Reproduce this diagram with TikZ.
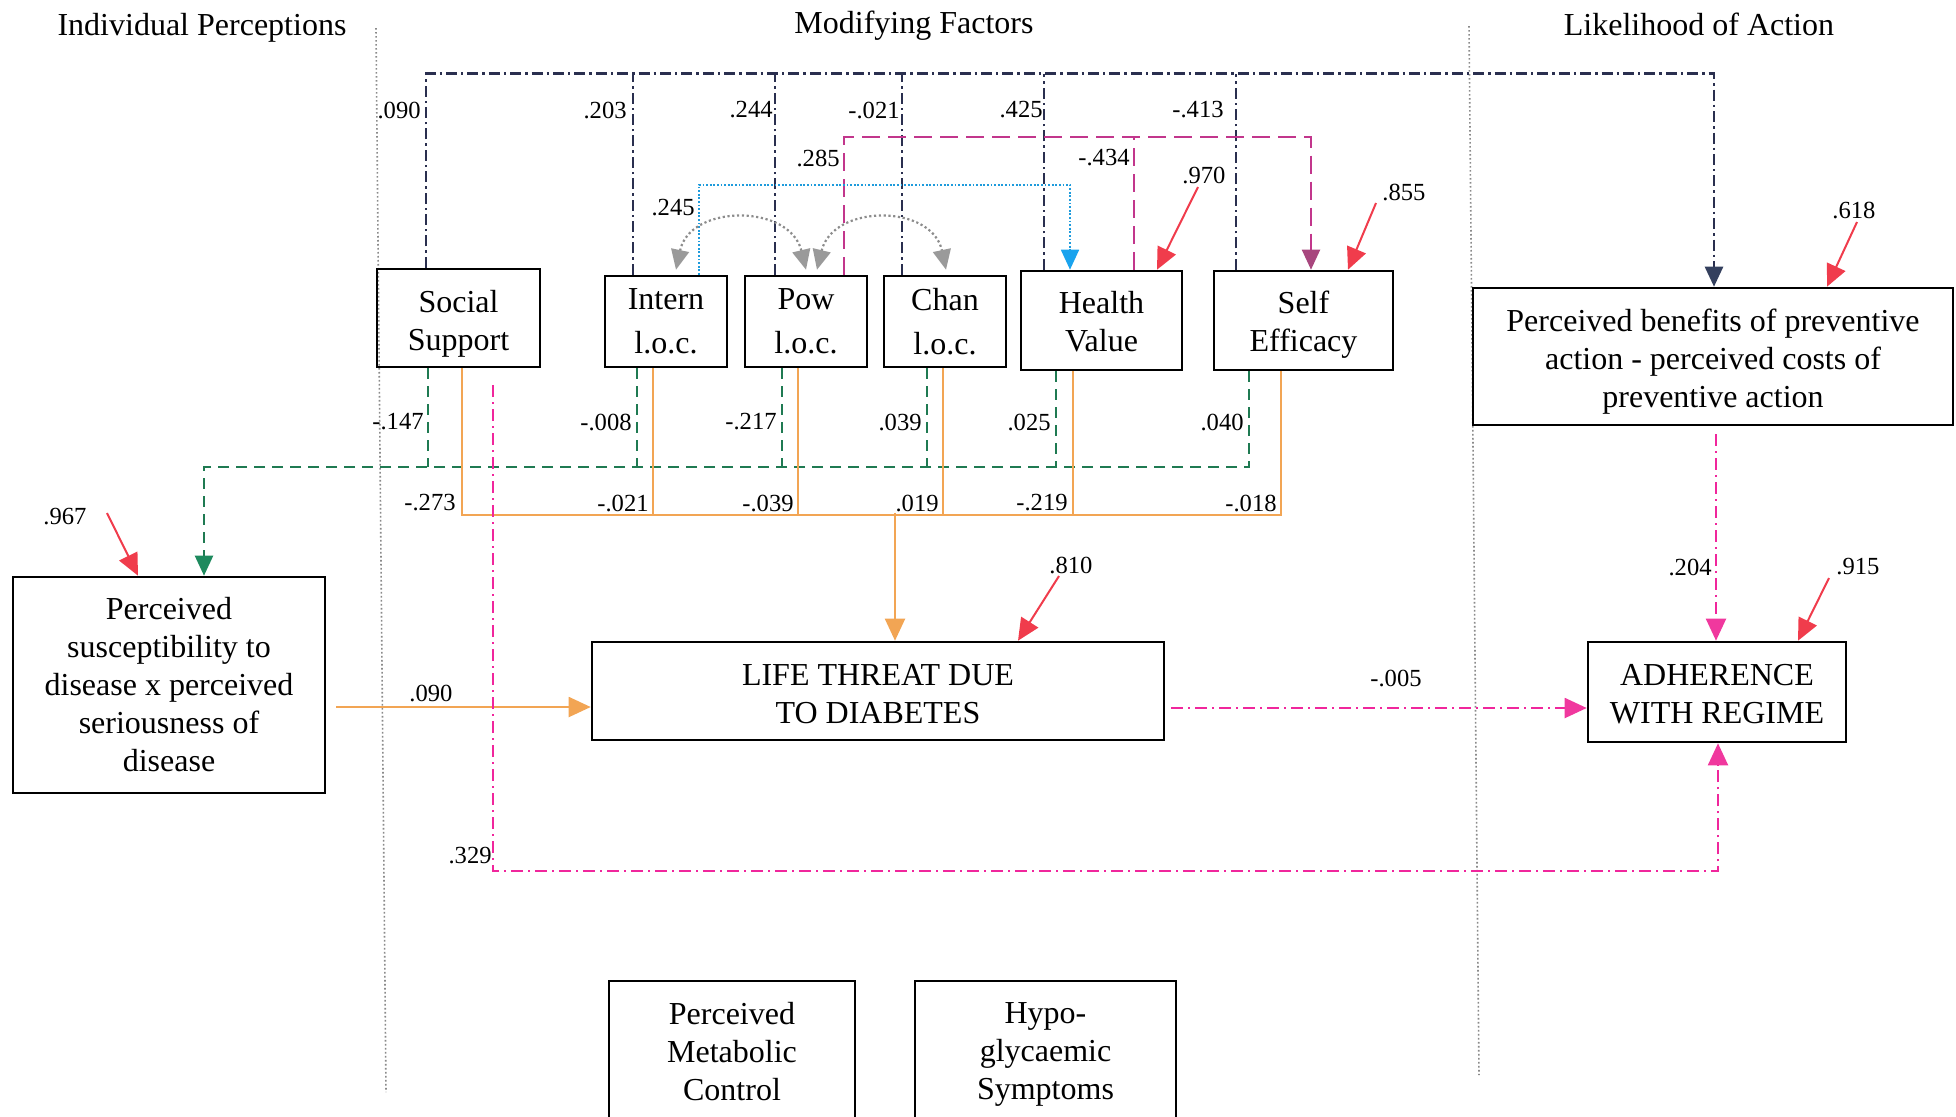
\documentclass[tikz,border=0pt]{standalone}
\usepackage{fontspec}
\setmainfont{Liberation Serif}
\usetikzlibrary{arrows.meta,calc}
\definecolor{navyc}{HTML}{2A2F4F}
\definecolor{navyh}{HTML}{34405E}
\definecolor{magc}{HTML}{C2368C}
\definecolor{magh}{HTML}{A8467E}
\definecolor{bluec}{HTML}{1E9BDC}
\definecolor{blueh}{HTML}{1AA3EE}
\definecolor{grayc}{HTML}{8C8C8C}
\definecolor{grayh}{HTML}{9A9A9A}
\definecolor{greenc}{HTML}{1F7A52}
\definecolor{greenh}{HTML}{1E8A5E}
\definecolor{orangec}{HTML}{F2A554}
\definecolor{pinkc}{HTML}{F0269C}
\definecolor{pinkh}{HTML}{F0389E}
\definecolor{redc}{HTML}{F03C4C}
\definecolor{divc}{HTML}{8A8A8A}
\newcommand\lowerby[1]{\rule{0pt}{#1}}
\begin{document}
\begin{tikzpicture}[x=0.5pt,y=-0.5pt,
  box/.style={draw=black, line width=1.3pt, align=center, inner sep=0pt, font=\fontsize{16}{19}\selectfont},
  lab/.style={font=\fontsize{12.3}{14}\selectfont, inner sep=0pt},
  head/.style={font=\fontsize{16}{19}\selectfont, inner sep=0pt},
  nav/.style={draw=navyc, line width=1.3pt, dash pattern=on 5.5pt off 2pt on 1.2pt off 2pt},
  mag/.style={draw=magc, line width=1pt, dash pattern=on 9pt off 4pt},
  blu/.style={draw=bluec, line width=0.9pt, dash pattern=on 0.9pt off 0.9pt},
  garc/.style={draw=grayc, line width=1.1pt, dash pattern=on 1.1pt off 1.3pt},
  grn/.style={draw=greenc, line width=1.1pt, dash pattern=on 5.5pt off 3.5pt},
  org/.style={draw=orangec, line width=1pt},
  pnk/.style={draw=pinkc, line width=1pt, dash pattern=on 6pt off 2.5pt on 1pt off 2.5pt},
  err/.style={draw=redc, line width=1pt, -{Triangle[length=11pt,width=10pt]}},
  divider/.style={draw=divc, line width=0.8pt, dash pattern=on 0.8pt off 1.2pt},
  tipN/.style={-{Triangle[length=10pt,width=9pt,color=navyh]}},
  tipM/.style={-{Triangle[length=10pt,width=9pt,color=magh]}},
  tipB/.style={-{Triangle[length=10pt,width=9pt,color=blueh]}},
  tipG/.style={-{Triangle[length=10pt,width=9pt,color=greenh]}},
  tipO/.style={-{Triangle[length=11pt,width=10pt,color=orangec]}},
  tipP/.style={-{Triangle[length=11pt,width=10pt,color=pinkh]}},
  tipGA/.style={{Triangle[length=10pt,width=9pt,color=grayh]}-{Triangle[length=10pt,width=9pt,color=grayh]}},
]
\useasboundingbox (0,0) rectangle (1956,1116);
\clip (0,0) rectangle (1956,1116);

% dividers and headings
\draw[divider] (376,28) -- (386,1092);
\draw[divider] (1469,26) -- (1479,1075);
\node[head] (h1) at (202,28) {Individual Perceptions};
\node[head] (h2) at (914,26) {Modifying Factors};
\node[head] (h3) at (1699,24) {Likelihood of Action};

% boxes
\node[box, minimum width=81.5pt, minimum height=49pt] (ss) at (458.5,318) {\lowerby{16.8pt}Social\\Support};
\node[box, minimum width=61pt, minimum height=45.5pt] (intern) at (666,321.5) {Intern\\[3pt]l.o.c.};
\node[box, minimum width=61pt, minimum height=45.5pt] (pow) at (806,321.5) {Pow\\[3pt]l.o.c.};
\node[box, minimum width=61pt, minimum height=45.5pt] (chan) at (945,321.5) {Chan\\[3pt]l.o.c.};
\node[box, minimum width=80.5pt, minimum height=49.5pt] (hv) at (1101.5,320.5) {\lowerby{12.5pt}Health\\Value};
\node[box, minimum width=89.5pt, minimum height=49.5pt] (se) at (1303.5,320.5) {\lowerby{15pt}Self\\Efficacy};
\node[box, minimum width=240pt, minimum height=68.5pt] (pb) at (1713,356.5) {\lowerby{16pt}Perceived benefits of preventive\\action - perceived costs of\\preventive action};
\node[box, minimum width=156pt, minimum height=108pt] (ps) at (169,685) {Perceived\\susceptibility to\\disease x perceived\\seriousness of\\disease};
\node[box, minimum width=286pt, minimum height=49pt] (lt) at (878,691) {\lowerby{13.5pt}LIFE THREAT DUE\\TO DIABETES};
\node[box, minimum width=129pt, minimum height=50pt] (adh) at (1717,692) {\lowerby{12.5pt}ADHERENCE\\WITH REGIME};
\node[box, minimum width=123pt, minimum height=71pt] (pmc) at (732,1052) {Perceived\\Metabolic\\Control};
\node[box, minimum width=130.5pt, minimum height=73pt] (hypo) at (1045.5,1054) {Hypo-\\glycaemic\\Symptoms};

% navy dash-dot paths to perceived benefits
\draw[nav, tipN] ($(ss.north)+(-32.5,0)$) -- ++(0,-194) -| ($(pb.north)+(1,0)$);
\draw[nav] ($(intern.north)+(-33,0)$) -- ++(0,-201);
\draw[nav] ($(pow.north)+(-31,0)$) -- ++(0,-201);
\draw[nav] ($(chan.north)+(-43,0)$) -- ++(0,-201);
\draw[nav] ($(hv.north)+(-57.5,0)$) -- ++(0,-196);
\draw[nav] ($(se.north)+(-67.5,0)$) -- ++(0,-196);
\node[lab, anchor=east] (n1) at (421,110) {.090};
\node[lab, anchor=east] (n2) at (627,110) {.203};
\node[lab, anchor=east] (n3) at (773,110) {.244};
\node[lab, anchor=east] (n4) at (900,110) {-.021};
\node[lab, anchor=east] (n5) at (1043,110) {.425};
\node[lab, anchor=east] (n6) at (1224,110) {-.413};

% magenta dashed to self efficacy
\draw[mag, tipM] ($(pow.north)+(38,0)$) -- ++(0,-138) -| ($(se.north)+(7.5,0)$);
\draw[mag] ($(hv.north)+(32.5,0)$) -- ++(0,-133);
\node[lab, anchor=east] (m1) at (840,158) {.285};
\node[lab, anchor=east] (m2) at (1130,158) {-.434};

% blue dotted to health value
\draw[blu, tipB] ($(intern.north)+(33,0)$) -- ++(0,-90) -| ($(hv.north)+(-31.5,0)$);
\node[lab, anchor=east] (b1) at (695,208) {.245};

% gray correlation arcs
\draw[garc, tipGA] ($(intern.north)+(10,-5)$) .. controls +(14,-66) and +(-16,-66) .. ($(pow.north)+(0,-5)$);
\draw[garc, tipGA] ($(pow.north)+(11,-5)$) .. controls +(16,-66) and +(-14,-66) .. ($(chan.north)+(1,-5)$);

% green dashed to perceived susceptibility
\draw[grn, tipG] ($(se.south)+(-54.5,0)$) -- ++(0,96) -| ($(ps.north)+(35,0)$);
\draw[grn] ($(ss.south)+(-30.5,0)$) -- ++(0,99);
\draw[grn] ($(intern.south)+(-29,0)$) -- ++(0,99);
\draw[grn] ($(pow.south)+(-24,0)$) -- ++(0,99);
\draw[grn] ($(chan.south)+(-18,0)$) -- ++(0,99);
\draw[grn] ($(hv.south)+(-45.5,0)$) -- ++(0,96);
\node[lab, anchor=east] (g1) at (424,422) {-.147};
\node[lab, anchor=east] (g2) at (632,422) {-.008};
\node[lab, anchor=east] (g3) at (777,422) {-.217};
\node[lab, anchor=east] (g4) at (922,422) {.039};
\node[lab, anchor=east] (g5) at (1051,422) {.025};
\node[lab, anchor=east] (g6) at (1244,422) {.040};

% orange to life threat
\draw[org] ($(ss.south)+(3.5,0)$) -- ++(0,147) -| ($(se.south)+(-22.5,0)$);
\draw[org] ($(intern.south)+(-13,0)$) -- ++(0,147);
\draw[org] ($(pow.south)+(-8,0)$) -- ++(0,147);
\draw[org] ($(chan.south)+(-2,0)$) -- ++(0,147);
\draw[org] ($(hv.south)+(-28.5,0)$) -- ++(0,144);
\draw[org, tipO] ($(lt.north)+(17,-128)$) -- ($(lt.north)+(17,0)$);
\draw[org, tipO] ($(ps.east)+(10,22)$) -- ($(lt.west)+(0,16)$);
\node[lab, anchor=east] (o1) at (456,503) {-.273};
\node[lab, anchor=east] (o2) at (649,503) {-.021};
\node[lab, anchor=east] (o3) at (794,503) {-.039};
\node[lab, anchor=east] (o4) at (939,503) {.019};
\node[lab, anchor=east] (o5) at (1068,503) {-.219};
\node[lab, anchor=east] (o6) at (1277,503) {-.018};
\node[lab] (o7) at (431,693) {.090};

% pink dash-dot to adherence
\draw[pnk, tipP] ($(lt.east)+(6,17)$) -- ($(adh.west)+(0,16)$);
\draw[pnk, tipP] ($(pb.south)+(3,8)$) -- ($(adh.north)+(-1,0)$);
\draw[pnk, tipP] ($(ss.south)+(34.5,17)$) -- ++(0,486) -| ($(adh.south)+(1,0)$);
\node[lab] (p1) at (1396,678) {-.005};
\node[lab, anchor=east] (p2) at (1712,567) {.204};
\node[lab, anchor=east] (p3) at (492,856) {.329};

% error terms
\coordinate (e1) at (107,513);
\coordinate (e2) at (1198,187);
\coordinate (e3) at (1376,203);
\coordinate (e4) at (1857,222);
\coordinate (e5) at (1059,576);
\coordinate (e6) at (1829,578);
\draw[err] (e1) -- ($(ps.north)+(-31,0)$);
\draw[err] (e2) -- ($(hv.north)+(55.5,0)$);
\draw[err] (e3) -- ($(se.north)+(44.5,0)$);
\draw[err] (e4) -- ($(pb.north)+(114,0)$);
\draw[err] (e5) -- ($(lt.north)+(140,0)$);
\draw[err] (e6) -- ($(adh.north)+(81,0)$);
\node[lab] (r1) at (65,517) {.967};
\node[lab] (r2) at (1204,175) {.970};
\node[lab] (r3) at (1404,192) {.855};
\node[lab] (r4) at (1854,210) {.618};
\node[lab] (r5) at (1071,565) {.810};
\node[lab] (r6) at (1858,567) {.915};
\end{tikzpicture}
\end{document}
